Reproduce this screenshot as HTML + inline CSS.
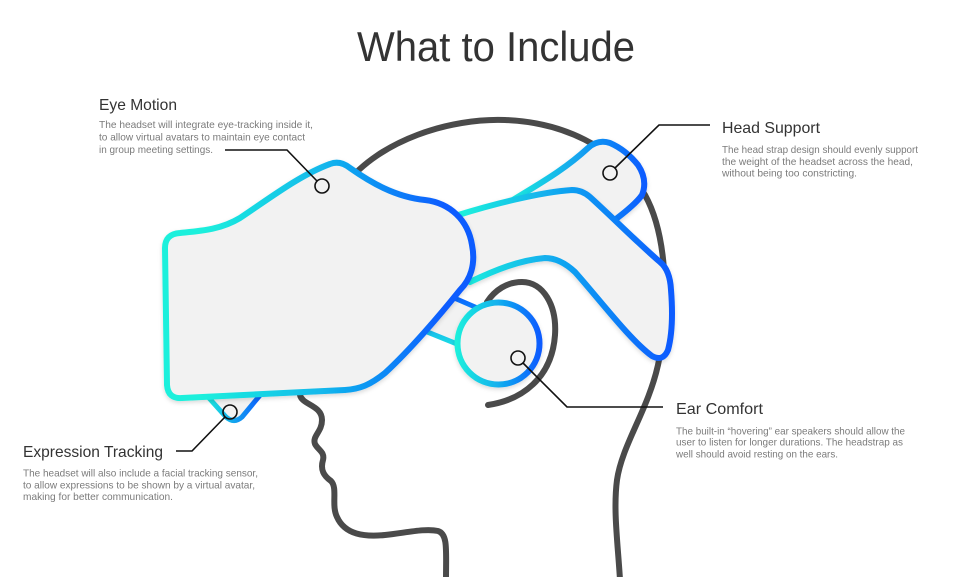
<!DOCTYPE html>
<html>
<head>
<meta charset="utf-8">
<style>
  html,body{margin:0;padding:0;background:#fff;}
  svg{display:block;}
  text{font-family:"Liberation Sans", Arial, sans-serif;}
  .h{font-size:16px;fill:#333;}
  .b{font-size:10.2px;fill:#7b7b7b;}
</style>
</head>
<body>
<svg width="967" height="577" viewBox="0 0 967 577" xmlns="http://www.w3.org/2000/svg">
  <defs>
    <linearGradient id="gVisor" gradientUnits="userSpaceOnUse" x1="200" y1="0" x2="445" y2="0">
      <stop offset="0" stop-color="#1cf0dc"/>
      <stop offset="0.5" stop-color="#12b8ec"/>
      <stop offset="1" stop-color="#0b5bff"/>
    </linearGradient>
    <linearGradient id="gStrap" gradientUnits="userSpaceOnUse" x1="462" y1="0" x2="670" y2="0">
      <stop offset="0" stop-color="#1cf0dc"/>
      <stop offset="0.4" stop-color="#12b0ee"/>
      <stop offset="1" stop-color="#0b5bff"/>
    </linearGradient>
    <linearGradient id="gSup" gradientUnits="userSpaceOnUse" x1="505" y1="0" x2="645" y2="0">
      <stop offset="0" stop-color="#1cf0dc"/>
      <stop offset="0.55" stop-color="#12a0f0"/>
      <stop offset="1" stop-color="#0b5bff"/>
    </linearGradient>
    <linearGradient id="gEar" gradientUnits="userSpaceOnUse" x1="456" y1="0" x2="540" y2="0">
      <stop offset="0" stop-color="#1cf0dc"/>
      <stop offset="0.5" stop-color="#12b0ee"/>
      <stop offset="1" stop-color="#0b5bff"/>
    </linearGradient>
    <linearGradient id="gArm" gradientUnits="userSpaceOnUse" x1="0" y1="300" x2="0" y2="342">
      <stop offset="0" stop-color="#0b6bff"/>
      <stop offset="1" stop-color="#1ad8e6"/>
    </linearGradient>
    <linearGradient id="gChin" gradientUnits="userSpaceOnUse" x1="205" y1="0" x2="262" y2="0">
      <stop offset="0" stop-color="#1cf0dc"/>
      <stop offset="1" stop-color="#0b5bff"/>
    </linearGradient>
    <filter id="sh" x="-10%" y="-10%" width="120%" height="130%">
      <feDropShadow dx="0" dy="2" stdDeviation="2" flood-color="#000" flood-opacity="0.15"/>
    </filter>
  </defs>

  <!-- Title -->
  <text x="357" y="61" font-size="42" fill="#333" textLength="278" lengthAdjust="spacingAndGlyphs">What to Include</text>

  <!-- Head outline -->
  <g fill="none" stroke="#4a4a4a" stroke-width="6" stroke-linecap="round" stroke-linejoin="round">
    <path d="M 345 185 C 380 140, 450 118, 505 120 C 560 122, 615 145, 645 195 C 670 240, 668 320, 658 365 C 648 410, 622 445, 617 480 C 613 510, 618 545, 620 580"/>
    <path d="M 300 395 C 302 405, 322 405, 322 420 C 322 432, 312 436, 315 444 C 318 450, 325 452, 323 460 C 320 470, 324 476, 331 481 C 338 488, 331 505, 337 517 C 345 535, 365 537, 385 535 C 405 533, 425 528, 438 531 C 448 534, 446 550, 446 580"/>
    <path d="M 488 405 C 522 400, 552 378, 555 335 C 557 305, 543 282, 522 282 C 507 282, 495 290, 487 302"/>
  </g>

  <!-- Arms to ear -->
  <path d="M 445 294 L 482 310 L 462 346 L 420 329 Z" fill="#f2f2f2" stroke="url(#gArm)" stroke-width="5" stroke-linejoin="round"/>

  <!-- Chin piece -->
  <path d="M 200 388 L 266 388 L 242 417 Q 234 424 226 417 Z" fill="#f2f2f2" stroke="url(#gChin)" stroke-width="5" stroke-linejoin="round"/>

  <!-- Head support piece -->
  <path d="M 505 205 C 535 186, 562 172, 588 148 Q 598 139 610 143 Q 626 150 638 165 Q 648 180 642 195 Q 635 205 612 222 L 560 240 Z" fill="#f2f2f2" stroke="url(#gSup)" stroke-width="6" stroke-linejoin="round" filter="url(#sh)"/>

  <!-- Main strap -->
  <path d="M 455 216 C 490 205, 540 192, 572 190 Q 582 190, 590 197 C 610 215, 640 245, 660 262 Q 670 270, 671 290 C 673 315, 672 335, 668 350 Q 663 362, 652 356 C 630 340, 600 300, 575 272 Q 560 258, 545 258 C 520 260, 495 270, 470 282 Z" fill="#f2f2f2" stroke="url(#gStrap)" stroke-width="6" stroke-linejoin="round" filter="url(#sh)"/>

  <!-- Visor -->
  <path d="M 165 248 Q 165 234 180 233 C 200 231, 220 230, 240 218 C 270 198, 300 175, 330 164 Q 340 160, 350 168 C 370 182, 395 197, 425 200 C 450 203, 468 220, 472 245 C 476 265, 470 280, 460 290 C 440 315, 410 350, 385 373 C 370 385, 360 389, 345 390 L 182 398 Q 168 399, 167 385 Z" fill="#f2f2f2" stroke="url(#gVisor)" stroke-width="6" stroke-linejoin="round" filter="url(#sh)"/>

  <!-- Ear circle -->
  <circle cx="498.5" cy="343.5" r="41" fill="#f2f2f2" stroke="url(#gEar)" stroke-width="6" filter="url(#sh)"/>

  <!-- Markers and connectors -->
  <g fill="none" stroke="#111" stroke-width="1.6">
    <circle cx="322" cy="186" r="7"/>
    <polyline points="225,150 287,150 317,181"/>
    <circle cx="610" cy="173" r="7"/>
    <polyline points="615,168 659,125 710,125"/>
    <circle cx="518" cy="358" r="7"/>
    <polyline points="523,363 567,407 663,407"/>
    <circle cx="230" cy="412" r="7"/>
    <polyline points="225,417 192,451 176,451"/>
  </g>

  <!-- Eye Motion -->
  <text class="h" x="99" y="110" textLength="78" lengthAdjust="spacingAndGlyphs">Eye Motion</text>
  <text class="b" x="99" y="128" textLength="214" lengthAdjust="spacingAndGlyphs">The headset will integrate eye-tracking inside it,</text>
  <text class="b" x="99" y="140.5" textLength="206" lengthAdjust="spacingAndGlyphs">to allow virtual avatars to maintain eye contact</text>
  <text class="b" x="99" y="153" textLength="114" lengthAdjust="spacingAndGlyphs">in group meeting settings.</text>

  <!-- Head Support -->
  <text class="h" x="722" y="133" textLength="98" lengthAdjust="spacingAndGlyphs">Head Support</text>
  <text class="b" x="722" y="153" textLength="196" lengthAdjust="spacingAndGlyphs">The head strap design should evenly support</text>
  <text class="b" x="722" y="165" textLength="191" lengthAdjust="spacingAndGlyphs">the weight of the headset across the head,</text>
  <text class="b" x="722" y="176.7" textLength="135" lengthAdjust="spacingAndGlyphs">without being too constricting.</text>

  <!-- Expression Tracking -->
  <text class="h" x="23" y="457" textLength="140" lengthAdjust="spacingAndGlyphs">Expression Tracking</text>
  <text class="b" x="23" y="476.7" textLength="235" lengthAdjust="spacingAndGlyphs">The headset will also include a facial tracking sensor,</text>
  <text class="b" x="23" y="488.3" textLength="232" lengthAdjust="spacingAndGlyphs">to allow expressions to be shown by a virtual avatar,</text>
  <text class="b" x="23" y="500" textLength="150" lengthAdjust="spacingAndGlyphs">making for better communication.</text>

  <!-- Ear Comfort -->
  <text class="h" x="676" y="414" textLength="87" lengthAdjust="spacingAndGlyphs">Ear Comfort</text>
  <text class="b" x="676" y="434.3" textLength="229" lengthAdjust="spacingAndGlyphs">The built-in “hovering” ear speakers should allow the</text>
  <text class="b" x="676" y="445.7" textLength="227" lengthAdjust="spacingAndGlyphs">user to listen for longer durations. The headstrap as</text>
  <text class="b" x="676" y="457.3" textLength="162" lengthAdjust="spacingAndGlyphs">well should avoid resting on the ears.</text>
</svg>
</body>
</html>
